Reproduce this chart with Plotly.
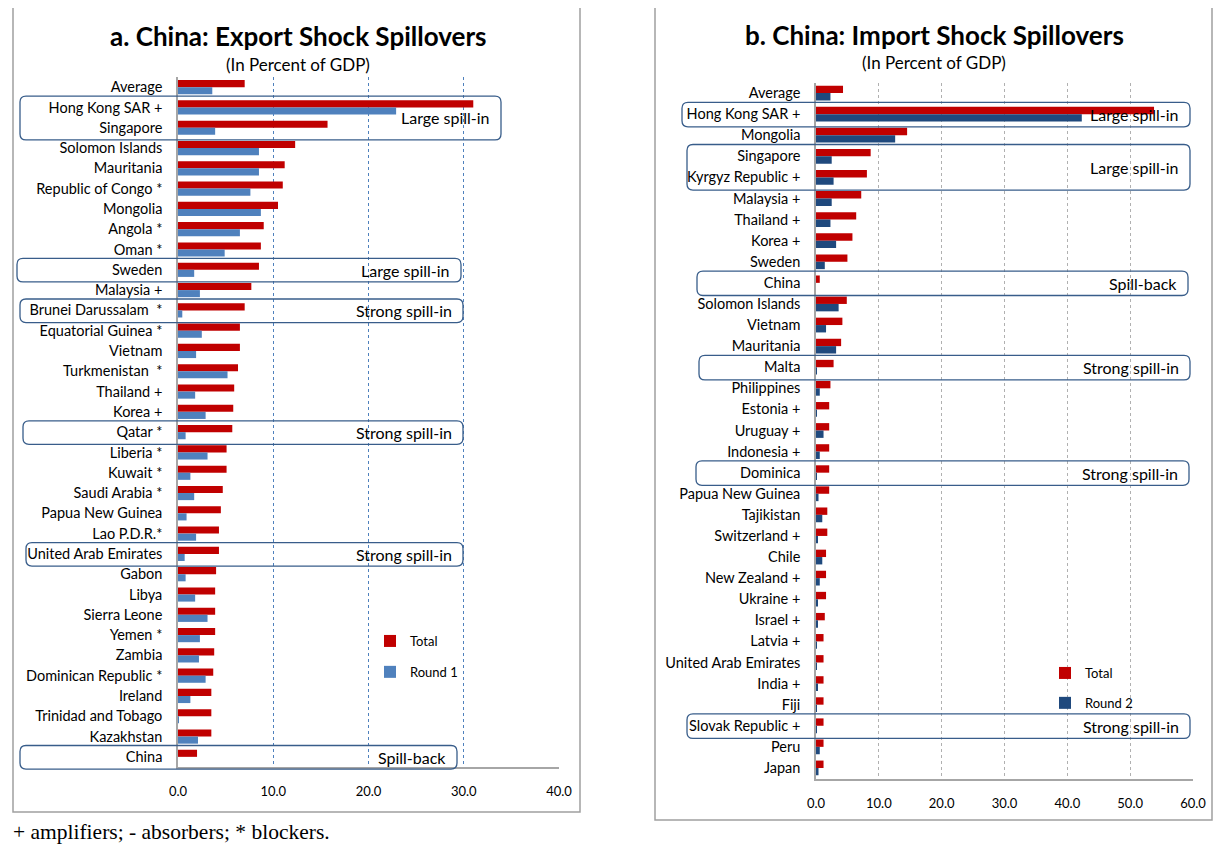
import plotly.graph_objects as go

# ---------------- data ----------------
export_countries = [
    "Average", "Hong Kong SAR +", "Singapore", "Solomon Islands", "Mauritania",
    "Republic of Congo *", "Mongolia", "Angola *", "Oman *", "Sweden", "Malaysia +",
    "Brunei Darussalam  *", "Equatorial Guinea *", "Vietnam", "Turkmenistan  *",
    "Thailand +", "Korea +", "Qatar *", "Liberia *", "Kuwait *", "Saudi Arabia *",
    "Papua New Guinea", "Lao P.D.R.*", "United Arab Emirates", "Gabon", "Libya",
    "Sierra Leone", "Yemen *", "Zambia", "Dominican Republic *", "Ireland",
    "Trinidad and Tobago", "Kazakhstan", "China",
]
export_total = [7.0, 31.0, 15.7, 12.3, 11.2, 11.0, 10.5, 9.0, 8.7, 8.5, 7.7,
                7.0, 6.5, 6.5, 6.3, 5.9, 5.8, 5.7, 5.1, 5.1, 4.7,
                4.5, 4.3, 4.3, 4.0, 3.9, 3.9, 3.9, 3.8, 3.7, 3.5,
                3.5, 3.5, 2.0]
export_round1 = [3.6, 22.9, 3.9, 8.5, 8.5, 7.6, 8.7, 6.5, 4.9, 1.7, 2.3,
                 0.45, 2.5, 1.9, 5.2, 1.8, 2.9, 0.8, 3.1, 1.3, 1.7,
                 0.9, 1.9, 0.7, 0.8, 1.8, 3.1, 2.3, 2.2, 2.9, 1.3,
                 0.1, 2.1, 0.0]

import_countries = [
    "Average", "Hong Kong SAR +", "Mongolia", "Singapore", "Kyrgyz Republic +",
    "Malaysia +", "Thailand +", "Korea +", "Sweden", "China", "Solomon Islands",
    "Vietnam", "Mauritania", "Malta", "Philippines", "Estonia +", "Uruguay +",
    "Indonesia +", "Dominica", "Papua New Guinea", "Tajikistan", "Switzerland +",
    "Chile", "New Zealand +", "Ukraine +", "Israel +", "Latvia +",
    "United Arab Emirates", "India +", "Fiji", "Slovak Republic +", "Peru", "Japan",
]
import_total = [4.3, 53.8, 14.5, 8.7, 8.1, 7.2, 6.4, 5.8, 5.0, 0.6, 4.9,
                4.2, 4.0, 2.8, 2.3, 2.1, 2.1, 2.1, 2.1, 2.1, 1.8, 1.8,
                1.6, 1.6, 1.6, 1.4, 1.2, 1.2, 1.2, 1.2, 1.2, 1.2, 1.2]
import_round2 = [2.3, 42.3, 12.6, 2.5, 2.8, 2.5, 2.3, 3.2, 1.4, 0.0, 3.6,
                 1.6, 3.2, 0.1, 0.6, 0.1, 1.2, 0.6, 0.05, 0.4, 1.0, 0.25,
                 1.0, 0.6, 0.25, 0.2, 0.05, 0.05, 0.2, 0.05, 0.05, 0.6, 0.4]

export_ticks = [0, 10, 20, 30, 40]
import_ticks = [0, 10, 20, 30, 40, 50, 60]

# annotation boxes: (first row, last row, label, left px, right px)
export_boxes = [
    (1, 2, "Large spill-in", 20, 501),
    (9, 9, "Large spill-in", 17, 461),
    (11, 11, "Strong spill-in", 20, 463),
    (17, 17, "Strong spill-in", 23, 463),
    (23, 23, "Strong spill-in", 26, 463),
    (33, 33, "Spill-back", 20, 457),
]
import_boxes = [
    (1, 1, "Large spill-in", 682, 1190),
    (3, 4, "Large spill-in", 687, 1190),
    (9, 9, "Spill-back", 697, 1188),
    (13, 13, "Strong spill-in", 699, 1190),
    (18, 18, "Strong spill-in", 696, 1189),
    (30, 30, "Strong spill-in", 687, 1190),
]

# ---------------- style ----------------
W, H = 1225, 850
OX, OY = 8, 8          # page offset of the plot div
FONT = "Lato, Carlito, Calibri, sans-serif"
RED = "#C00000"
BLUE1 = "#4F81BD"
BLUE2 = "#1F497D"
BOXC = "#385D8A"


def px(x):
    return (x - OX) / W


def py(y):
    return 1 - (y - OY) / H


# plot-area pixel frames (screen coords)
A_L, A_R, A_T, A_B = 178, 559, 77, 767
B_L, B_R, B_T, B_B = 816, 1193, 82.5, 778.5

fig = go.Figure()

ex_idx = list(range(len(export_countries)))
im_idx = list(range(len(import_countries)))

fig.add_trace(go.Bar(x=export_total, y=ex_idx, orientation="h", name="Total",
                     marker=dict(color=RED, line=dict(width=0)),
                     xaxis="x", yaxis="y", legend="legend", legendgroup="a1"))
fig.add_trace(go.Bar(x=export_round1, y=ex_idx, orientation="h", name="Round 1",
                     marker=dict(color=BLUE1, line=dict(width=0)),
                     xaxis="x", yaxis="y", legend="legend", legendgroup="a2"))
fig.add_trace(go.Bar(x=import_total, y=im_idx, orientation="h", name="Total",
                     marker=dict(color=RED, line=dict(width=0)),
                     xaxis="x2", yaxis="y2", legend="legend2", legendgroup="b1"))
fig.add_trace(go.Bar(x=import_round2, y=im_idx, orientation="h", name="Round 2",
                     marker=dict(color=BLUE2, line=dict(width=0)),
                     xaxis="x2", yaxis="y2", legend="legend2", legendgroup="b2"))

axis_font = dict(family=FONT, size=14.5, color="#000000")
tick_font = dict(family=FONT, size=13, color="#000000")

fig.update_layout(
    width=W, height=H,
    margin=dict(l=0, r=0, t=0, b=0, autoexpand=False),
    paper_bgcolor="white", plot_bgcolor="white",
    barmode="group", bargap=0.3, bargroupgap=0.0,
    font=dict(family=FONT, size=13, color="#000000"),
    xaxis=dict(domain=[px(A_L), px(A_R)], range=[0, 40], tickvals=export_ticks,
               tickformat=".1f", showgrid=True, gridcolor="#4F81BD", griddash="dot",
               gridwidth=1, zeroline=False, showline=True, linecolor="#A6A6A6",
               linewidth=1.5, ticks="", ticklabelstandoff=12, tickfont=tick_font,
               anchor="y", fixedrange=True, automargin=False),
    yaxis=dict(domain=[py(A_B), py(A_T)], range=[len(export_countries) - 0.5, -0.5],
               tickvals=ex_idx, ticktext=export_countries, showgrid=False,
               zeroline=False, showline=True, linecolor="#A6A6A6", linewidth=1.5,
               ticks="", ticklabelstandoff=11, tickfont=axis_font, anchor="x",
               fixedrange=True, automargin=False),
    xaxis2=dict(domain=[px(B_L), px(B_R)], range=[0, 60], tickvals=import_ticks,
                tickformat=".1f", showgrid=True, gridcolor="#B0B0B0", griddash="dot",
                gridwidth=1, zeroline=False, showline=True, linecolor="#A6A6A6",
                linewidth=1.5, ticks="", ticklabelstandoff=12, tickfont=tick_font,
                anchor="y2", fixedrange=True, automargin=False),
    yaxis2=dict(domain=[py(B_B), py(B_T)], range=[len(import_countries) - 0.5, -0.5],
                tickvals=im_idx, ticktext=import_countries, showgrid=False,
                zeroline=False, showline=True, linecolor="#A6A6A6", linewidth=1.5,
                ticks="", ticklabelstandoff=11, tickfont=axis_font, anchor="x2",
                fixedrange=True, automargin=False),
    legend=dict(x=px(370), y=py(626), xanchor="left", yanchor="top",
                bgcolor="rgba(0,0,0,0)", font=dict(family=FONT, size=13),
                tracegroupgap=11, itemwidth=30),
    legend2=dict(x=px(1045), y=py(658), xanchor="left", yanchor="top",
                 bgcolor="rgba(0,0,0,0)", font=dict(family=FONT, size=13),
                 tracegroupgap=10, itemwidth=30),
    showlegend=True,
)

shapes = []
annotations = []

# panel frames
shapes.append(dict(type="rect", xref="paper", yref="paper", x0=px(13), x1=px(580),
                   y0=py(812), y1=py(5), line=dict(color="#A0A0A0", width=1.5),
                   fillcolor="rgba(0,0,0,0)", layer="below"))
shapes.append(dict(type="rect", xref="paper", yref="paper", x0=px(655), x1=px(1212),
                   y0=py(820), y1=py(5), line=dict(color="#A0A0A0", width=1.5),
                   fillcolor="rgba(0,0,0,0)", layer="below"))


def add_boxes(boxes, n_rows, top_px, bot_px):
    row_px = (bot_px - top_px) / n_rows

    def row_y(r):  # screen-pixel y of a (fractional) row position
        return top_px + (r + 0.5) * row_px

    r = 6.0
    for r0, r1, label, xl_px, xr_px in boxes:
        yt_px = row_y(r0 - 0.56)
        yb_px = row_y(r1 + 0.6)
        xl, xr = px(xl_px), px(xr_px)
        yt, yb = py(yt_px), py(yb_px)
        rx, ry = r / W, r / H
        path = (f"M {xl + rx},{yt} L {xr - rx},{yt} Q {xr},{yt} {xr},{yt - ry} "
                f"L {xr},{yb + ry} Q {xr},{yb} {xr - rx},{yb} "
                f"L {xl + rx},{yb} Q {xl},{yb} {xl},{yb + ry} "
                f"L {xl},{yt - ry} Q {xl},{yt} {xl + rx},{yt} Z")
        shapes.append(dict(type="path", path=path, xref="paper", yref="paper",
                           line=dict(color=BOXC, width=1.3),
                           fillcolor="rgba(0,0,0,0)", layer="above"))
        annotations.append(dict(text=label, xref="paper", yref="paper",
                                x=px(xr_px - 9), y=py((yt_px + yb_px) / 2),
                                xanchor="right", yanchor="middle", showarrow=False,
                                font=dict(family=FONT, size=16, color="#000000")))


add_boxes(export_boxes, len(export_countries), A_T, A_B)
add_boxes(import_boxes, len(import_countries), B_T, B_B)

# titles
annotations += [
    dict(text="<b>a. China: Export Shock Spillovers</b>", xref="paper", yref="paper",
         x=px(298), y=py(36), xanchor="center", yanchor="middle", showarrow=False,
         font=dict(family=FONT, size=26, color="#000000")),
    dict(text="(In Percent of GDP)", xref="paper", yref="paper",
         x=px(298), y=py(64), xanchor="center", yanchor="middle", showarrow=False,
         font=dict(family=FONT, size=17, color="#000000")),
    dict(text="<b>b. China: Import Shock Spillovers</b>", xref="paper", yref="paper",
         x=px(934), y=py(35), xanchor="center", yanchor="middle", showarrow=False,
         font=dict(family=FONT, size=26, color="#000000")),
    dict(text="(In Percent of GDP)", xref="paper", yref="paper",
         x=px(934), y=py(63), xanchor="center", yanchor="middle", showarrow=False,
         font=dict(family=FONT, size=17, color="#000000")),
    dict(text="+ amplifiers; - absorbers; * blockers.", xref="paper", yref="paper",
         x=px(11), y=py(832), xanchor="left", yanchor="middle", showarrow=False,
         font=dict(family="Liberation Serif, Times New Roman, serif", size=21.5,
                   color="#000000")),
]

fig.update_layout(shapes=shapes, annotations=annotations)

fig.write_html("out.html")
